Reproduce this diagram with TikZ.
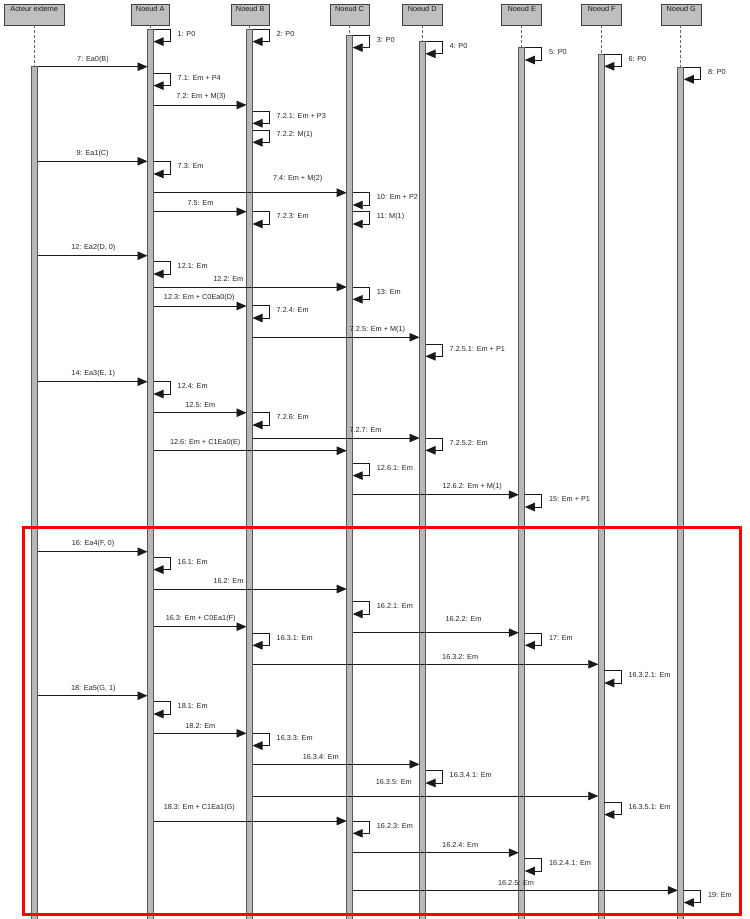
\documentclass[tikz,border=0pt]{standalone}
\usepackage{fontspec}
\setmainfont{Liberation Sans}
\usetikzlibrary{arrows.meta,calc}
\newcount\lblno
\tikzset{
  hdr/.style={draw=black!75, fill=black!25, line width=0.7pt, minimum height=21.3pt, inner sep=0pt},
  hdrtxt/.style={inner sep=0pt, text=black!90, font=\fontsize{7.3}{8.6}\selectfont},
  lbl/.style={inner sep=0pt, text=black!85, font=\fontsize{7.3}{8.6}\selectfont},
  bar/.style={draw=black!65, fill=black!28, line width=0.8pt},
  life/.style={draw=black!60, dash pattern=on 3pt off 2pt, line width=0.7pt},
  msgline/.style={draw=black!90, line width=0.7pt, -{Triangle[length=10pt,width=8.5pt]}},
  focusbox/.style={draw=red, line width=3pt}
}
\newcommand\msg[6]{%
  \draw[msgline] ($(#1)+(3,#3)$) -- ($(#2)+(-3,#3)$);
  \global\advance\lblno by 1
  \node[lbl] (lb\the\lblno) at (#5,#6) {#4};}
\newcommand\selfmsg[3]{%
  \draw[msgline] ($(#1)+(3,#2)$) -- ++(17,0) -- ++(0,12.3) -- ++(-17,0);
  \global\advance\lblno by 1
  \node[lbl,anchor=west] (lb\the\lblno) at ($(#1)+(27,#2+4.5)$) {#3};}
\newcommand\lifeline[2]{%
  \draw[life] ($(#1)+(0,25.3)$) -- ($(#1)+(0,#2)$);
  \draw[bar] ($(#1)+(-3,#2)$) rectangle ($(#1)+(3,919.5)$);}
\begin{document}
\begin{tikzpicture}[x=1pt,y=-1pt]
\useasboundingbox (0,0) rectangle (750,919);
% lifeline positions
\coordinate (LX) at (34.5,0);
\coordinate (LA) at (150.5,0);
\coordinate (LB) at (249.5,0);
\coordinate (LC) at (349.7,0);
\coordinate (LD) at (422.5,0);
\coordinate (LE) at (521.8,0);
\coordinate (LF) at (601.3,0);
\coordinate (LG) at (680.8,0);
% headers
\node[hdr, minimum width=60.3pt] (hX) at (34.2,14.6) {};
\node[hdr, minimum width=38.5pt] (hA) at (150.2,14.6) {};
\node[hdr, minimum width=38.5pt] (hB) at (250.2,14.6) {};
\node[hdr, minimum width=39pt] (hC) at (349.6,14.6) {};
\node[hdr, minimum width=40pt] (hD) at (422.2,14.6) {};
\node[hdr, minimum width=40pt] (hE) at (521.7,14.6) {};
\node[hdr, minimum width=40pt] (hF) at (601.7,14.6) {};
\node[hdr, minimum width=40.5pt] (hG) at (681.3,14.6) {};
\node[hdrtxt] (tX) at (34.2,8.8) {Acteur externe};
\node[hdrtxt] (tA) at (150.2,8.8) {Noeud A};
\node[hdrtxt] (tB) at (250.2,8.8) {Noeud B};
\node[hdrtxt] (tC) at (349.6,8.8) {Noeud C};
\node[hdrtxt] (tD) at (422.2,8.8) {Noeud D};
\node[hdrtxt] (tE) at (521.7,8.8) {Noeud E};
\node[hdrtxt] (tF) at (601.7,8.8) {Noeud F};
\node[hdrtxt] (tG) at (681.3,8.8) {Noeud G};
% lifelines and activation bars
\lifeline{LX}{66.7}
\lifeline{LA}{29.3}
\lifeline{LB}{29.3}
\lifeline{LC}{35.3}
\lifeline{LD}{41.5}
\lifeline{LE}{47.7}
\lifeline{LF}{54}
\lifeline{LG}{67}
% messages
\msg{LX}{LA}{66.7}{7: Ea0(B)}{93}{59.3}
\msg{LA}{LB}{105}{7.2: Em + M(3)}{201}{97}
\msg{LX}{LA}{161.3}{9: Ea1(C)}{92.7}{153.5}
\msg{LA}{LC}{192.7}{7.4: Em + M(2)}{297.7}{179}
\msg{LA}{LB}{211.7}{7.5: Em}{200.5}{203.5}
\msg{LX}{LA}{255.7}{12: Ea2(D, 0)}{93.3}{248}
\msg{LA}{LC}{287}{12.2: Em}{228.3}{279}
\msg{LA}{LB}{306}{12.3: Em + C0Ea0(D)}{199.3}{297.7}
\msg{LB}{LD}{337.3}{7.2.5: Em + M(1)}{377.5}{329.3}
\msg{LX}{LA}{381.7}{14: Ea3(E, 1)}{93.3}{373.7}
\msg{LA}{LB}{412.7}{12.5: Em}{200.3}{405}
\msg{LB}{LD}{438}{7.2.7: Em}{365.5}{430}
\msg{LA}{LC}{450.7}{12.6: Em + C1Ea0(E)}{205.2}{443}
\msg{LC}{LE}{494.7}{12.6.2: Em + M(1)}{472.2}{486.7}
\msg{LX}{LA}{551.7}{16: Ea4(F, 0)}{93}{543.7}
\msg{LA}{LC}{589}{16.2: Em}{228.5}{581}
\msg{LA}{LB}{626.7}{16.3: Em + C0Ea1(F)}{200.7}{619}
\msg{LC}{LE}{632.7}{16.2.2: Em}{463.5}{619}
\msg{LB}{LF}{664.3}{16.3.2: Em}{460.2}{656.7}
\msg{LX}{LA}{695.7}{18: Ea5(G, 1)}{93.3}{688.3}
\msg{LA}{LB}{733.3}{18.2: Em}{200.3}{725.7}
\msg{LB}{LD}{764.3}{16.3.4: Em}{320.8}{756.7}
\msg{LB}{LF}{796}{16.3.5: Em}{393.8}{781.7}
\msg{LA}{LC}{821}{18.3: Em + C1Ea1(G)}{199.3}{807.3}
\msg{LC}{LE}{852.7}{16.2.4: Em}{460.2}{844.7}
\msg{LC}{LG}{890.3}{16.2.5: Em}{516}{882.7}
% self messages
\selfmsg{LA}{29.3}{1: P0}
\selfmsg{LB}{29.3}{2: P0}
\selfmsg{LC}{35.3}{3: P0}
\selfmsg{LD}{41.5}{4: P0}
\selfmsg{LE}{47.7}{5: P0}
\selfmsg{LF}{54}{6: P0}
\selfmsg{LG}{67}{8: P0}
\selfmsg{LA}{73.3}{7.1: Em + P4}
\selfmsg{LB}{111}{7.2.1: Em + P3}
\selfmsg{LB}{130}{7.2.2: M(1)}
\selfmsg{LA}{161.7}{7.3: Em}
\selfmsg{LC}{192.7}{10: Em + P2}
\selfmsg{LB}{211.7}{7.2.3: Em}
\selfmsg{LC}{211.7}{11: M(1)}
\selfmsg{LA}{261.7}{12.1: Em}
\selfmsg{LC}{287}{13: Em}
\selfmsg{LB}{305.7}{7.2.4: Em}
\selfmsg{LD}{344}{7.2.5.1: Em + P1}
\selfmsg{LA}{381.7}{12.4: Em}
\selfmsg{LB}{412.7}{7.2.6: Em}
\selfmsg{LD}{438}{7.2.5.2: Em}
\selfmsg{LC}{463.3}{12.6.1: Em}
\selfmsg{LE}{494.7}{15: Em + P1}
\selfmsg{LA}{557.3}{16.1: Em}
\selfmsg{LC}{601.7}{16.2.1: Em}
\selfmsg{LB}{633}{16.3.1: Em}
\selfmsg{LE}{633}{17: Em}
\selfmsg{LF}{670.7}{16.3.2.1: Em}
\selfmsg{LA}{701.7}{18.1: Em}
\selfmsg{LB}{733.3}{16.3.3: Em}
\selfmsg{LD}{770.7}{16.3.4.1: Em}
\selfmsg{LF}{802.3}{16.3.5.1: Em}
\selfmsg{LC}{821}{16.2.3: Em}
\selfmsg{LE}{858.7}{16.2.4.1: Em}
\selfmsg{LG}{890.3}{19: Em}
% highlight frame
\draw[focusbox] (23,527.5) rectangle (740,914.5);
\end{tikzpicture}
\end{document}
